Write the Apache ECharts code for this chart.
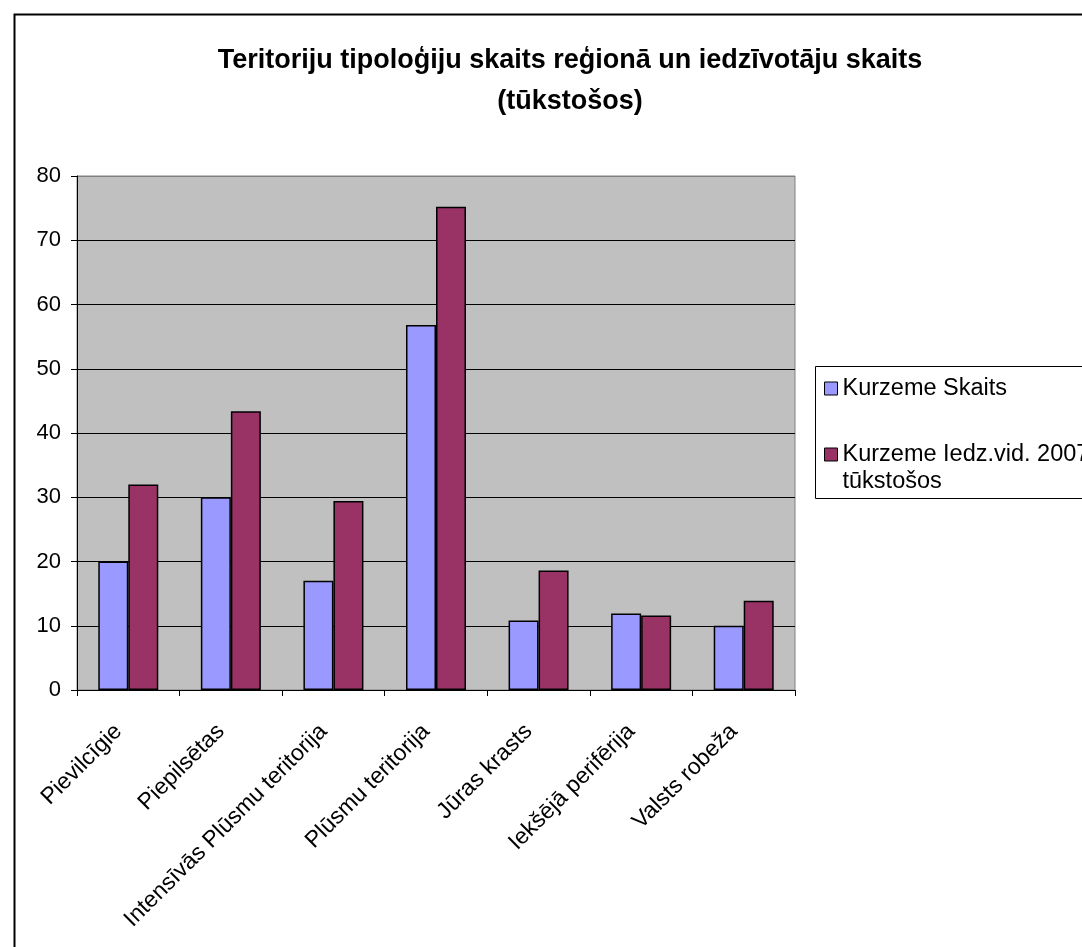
<!DOCTYPE html>
<html>
<head>
<meta charset="utf-8">
<script src="https://cdn.jsdelivr.net/npm/echarts@6/dist/echarts.min.js"></script>
<style>
  html, body { margin: 0; padding: 0; background: #fff; overflow: hidden; }
  #chart { width: 1140px; height: 947px; }
</style>
</head>
<body>
<div id="chart"></div>
<script>
const categories = ['Pievilcīgie', 'Piepilsētas', 'Intensīvās Plūsmu teritorija', 'Plūsmu teritorija', 'Jūras krasts', 'Iekšējā perifērija', 'Valsts robeža'];
const skaits = [20, 30, 17, 56.8, 10.8, 11.9, 10];
const iedzVid = [32, 43.4, 29.4, 75.2, 18.6, 11.6, 13.9];
const seriesNames = ['Kurzeme Skaits', 'Kurzeme Iedz.vid. 2007\ntūkstošos'];
const yTicks = [0, 10, 20, 30, 40, 50, 60, 70, 80];

const font = 'Arial, "Liberation Sans", sans-serif';
const chart = echarts.init(document.getElementById('chart'));

const options = {
  animation: false,
  title: {
    text: 'Teritoriju tipoloģiju skaits reģionā un iedzīvotāju skaits\n(tūkstošos)',
    left: 'center',
    top: 40,
    padding: 0,
    textStyle: {
      fontFamily: font,
      fontWeight: 'bold',
      fontSize: 27,
      lineHeight: 41,
      color: '#000'
    }
  },
  graphic: [
    // outer chart frame, it runs off the page like the original
    { type: 'rect', left: 12, top: 12, shape: { width: 1200, height: 1000 }, style: { fill: 'none', stroke: '#000', lineWidth: 2 }, z: -1 },
    // legend frame
    { type: 'rect', left: 815, top: 366, shape: { width: 400, height: 132 }, style: { fill: '#fff', stroke: '#000', lineWidth: 1 }, z: 0 }
  ],
  legend: {
    orient: 'vertical',
    left: 824,
    top: 375,
    padding: 0,
    itemGap: 12,
    itemWidth: 13,
    itemHeight: 13,
    icon: 'rect',
    itemStyle: { borderColor: '#000', borderWidth: 1 },
    textStyle: { fontFamily: font, fontSize: 23.5, lineHeight: 27, color: '#000' },
    // blank first line keeps the icon level with the first text line
    formatter: name => (name === seriesNames[1] ? '\n' + name : name),
    data: seriesNames,
    z: 5
  },
  grid: {
    left: 77,
    top: 176,
    width: 718,
    height: 514,
    show: true,
    backgroundColor: '#C0C0C0',
    borderColor: '#808080',
    borderWidth: 1
  },
  xAxis: {
    type: 'category',
    data: categories,
    axisLine: { lineStyle: { color: '#000', width: 1 } },
    axisTick: { show: true, length: 6, lineStyle: { color: '#000' } },
    axisLabel: {
      rotate: 45,
      interval: 0,
      margin: 28,
      padding: [0, 14, 0, 0],
      fontFamily: font,
      fontSize: 23,
      color: '#000'
    }
  },
  yAxis: {
    type: 'value',
    min: 0,
    max: 80,
    interval: 10,
    axisLine: { show: true, lineStyle: { color: '#000', width: 1 } },
    axisTick: { show: true, length: 6, lineStyle: { color: '#000' } },
    axisLabel: {
      margin: 16,
      fontFamily: font,
      fontSize: 22,
      color: '#000',
      formatter: v => (yTicks.includes(v) ? String(v) : '')
    },
    splitLine: {
      lineStyle: {
        color: ['#000', '#000', '#000', '#000', '#000', '#000', '#000', '#000', '#808080'],
        width: 1
      }
    }
  },
  series: [
    {
      name: seriesNames[0],
      type: 'bar',
      data: skaits,
      barGap: '0%',
      barCategoryGap: '41.5%',
      itemStyle: { color: '#9999FF', borderColor: '#000', borderWidth: 1.5 }
    },
    {
      name: seriesNames[1],
      type: 'bar',
      data: iedzVid,
      itemStyle: { color: '#993366', borderColor: '#000', borderWidth: 1.5 }
    }
  ]
};

chart.setOption(options);
</script>
</body>
</html>
